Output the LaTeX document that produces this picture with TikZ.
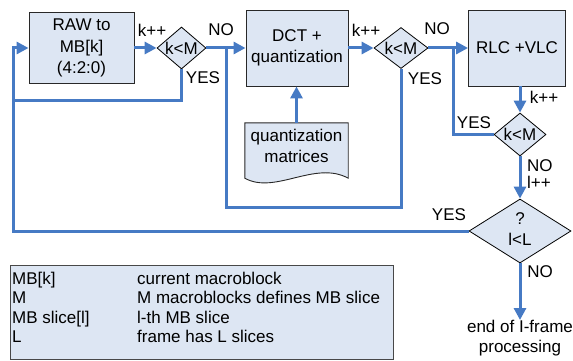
\documentclass[tikz,border=0pt]{standalone}
\usepackage{fontspec}
\setmainfont{Liberation Sans}
\usetikzlibrary{arrows.meta,shapes.geometric}
\definecolor{flowblue}{RGB}{70,122,196}
\definecolor{boxfill}{RGB}{221,230,243}
\definecolor{boxline}{RGB}{40,40,40}

\begin{document}
\begin{tikzpicture}[x=1pt,y=-1pt,
  font=\fontsize{17}{21.5}\selectfont,
  box/.style={draw=boxline,fill=boxfill,line width=0.9pt,inner sep=0pt,align=center},
  test/.style={draw=black,fill=boxfill,shape=diamond,line width=0.8pt,inner sep=0pt},
  flow/.style={draw=flowblue,line width=3pt},
  arr/.style={flow,-{Triangle[length=12pt,width=12pt]}},
  lbl/.style={inner sep=0pt,align=center},
  legtext/.style={inner sep=0pt,anchor=base west},
]
\useasboundingbox (0,0) rectangle (573,361);

% process boxes
\node[box,minimum width=105pt,minimum height=71pt] (raw) at (81.5,48) {RAW to\\MB[k]\\(4:2:0)};
\node[box,minimum width=102pt,minimum height=76pt] (dct) at (297,48) {DCT +\\quantization};
\node[box,minimum width=97pt,minimum height=76pt] (rlc) at (517,48) {RLC +VLC};

% decisions
\node[test,minimum width=49pt,minimum height=42pt] (d1) at (181.5,48) {};
\node[lbl] at (d1) {k<M};
\node[test,minimum width=54pt,minimum height=41pt] (d2) at (401,48) {};
\node[lbl] at (d2) {k<M};
\node[test,minimum width=52pt,minimum height=43pt] (d3) at (520,134.5) {};
\node[lbl] at (d3) {k<M};
\node[test,minimum width=102pt,minimum height=64pt] (d4) at (520,231) {};
\node[lbl] at (520,229) {?\\l<L};

% quantization matrices document
\node[minimum width=103pt,minimum height=55pt,inner sep=0pt] (doc) at (296.5,150.5) {};
\draw[fill=boxfill,draw=boxline,line width=0.9pt]
  (doc.south west) -- (doc.north west) -- (doc.north east) -- (doc.south east)
  .. controls (315,160) and (275,195) .. (doc.south west) -- cycle;
\node[lbl] at (296.5,146) {quantization\\matrices};

% end of processing
\node[lbl,anchor=north,font=\fontsize{17}{20}\selectfont] (endtxt) at (520,320) {end of I-frame\\processing};

% loop rails
\coordinate (railL) at (13,0);
\coordinate (yesA) at (13,100);
\coordinate (yesB) at (226,207);
\coordinate (yesC) at (453,48);

% main flow
\draw[arr] (raw.east) -- (d1.west);
\draw[arr] (d1.east) -- (dct.west);
\draw[arr] (dct.east) -- (d2.west);
\draw[arr] (d2.east) -- (rlc.west);
\draw[arr] (rlc.south -| d3.north) -- (d3.north);
\draw[arr] (d3.south) -- (d4.north);
\draw[arr] (doc.north) -- (doc.north |- dct.south);
\draw[arr] (d4.south) -- (endtxt.north);

% return loops
\draw[arr] (d4.west) -- (d4.west -| railL) -- (raw.west -| railL) -- (raw.west);
\draw[flow] (d1.south) |- (yesA);
\draw[flow] (d2.south) |- (yesB) -- (yesB |- d1.east);
\draw[flow] (d3.west) -| (yesC);

% branch labels
\node[lbl] at (152,30) {k++};
\node[lbl] at (221,30) {NO};
\node[lbl] at (203,78) {YES};
\node[lbl] at (366,30) {k++};
\node[lbl] at (437,29) {NO};
\node[lbl] at (425,79) {YES};
\node[lbl] at (544,97) {k++};
\node[lbl] at (474,123) {YES};
\node[lbl,anchor=west,align=left] at (527,174) {NO\\[-4pt]l++};
\node[lbl] at (449,215) {YES};
\node[lbl] at (540,272) {NO};

% legend
\node[box,draw=boxline!85,line width=1pt,minimum width=383pt,minimum height=94pt] (legend) at (201.5,312) {};
\node[legtext] at (12,284) {MB[k]};
\node[legtext] at (137,284) {current macroblock};
\node[legtext] at (12,303.5) {M};
\node[legtext] at (137,303.5) {M macroblocks defines MB slice};
\node[legtext] at (12,323) {MB slice[l]};
\node[legtext] at (137,323) {l-th MB slice};
\node[legtext] at (12,342.5) {L};
\node[legtext] at (137,342.5) {frame has L slices};
\end{tikzpicture}
\end{document}
